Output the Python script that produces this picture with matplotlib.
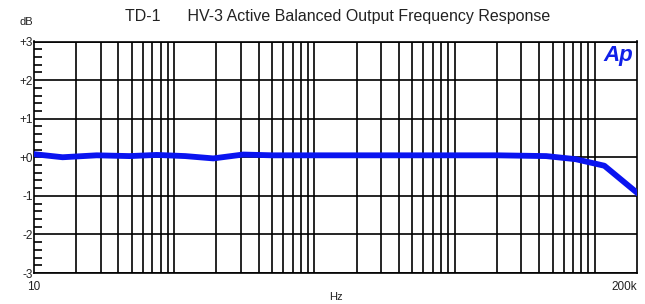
import numpy as np
import matplotlib.pyplot as plt
from matplotlib.ticker import FixedLocator, NullFormatter

# frequency response data (Hz, dB)
freq = [10, 16, 28, 48, 75, 120, 190, 310, 500, 1000, 3000, 10000, 20000, 45000, 73000, 117000, 200000]
level = [0.08, 0.0, 0.05, 0.03, 0.06, 0.03, -0.03, 0.07, 0.05, 0.05, 0.05, 0.05, 0.05, 0.03, -0.05, -0.22, -0.92]

y_ticks = [3, 2, 1, 0, -1, -2, -3]
y_labels = ['+3', '+2', '+1', '+0', '-1', '-2', '-3']

plt.rcParams['font.family'] = ['Liberation Sans', 'DejaVu Sans']

fig = plt.figure(figsize=(6.45, 3.04), dpi=100)
ax = fig.add_axes([34 / 645, 1 - 273 / 304, 603 / 645, 231.5 / 304])

ax.plot(freq, level, color='#0a14f0', lw=4.2, solid_joinstyle='round', zorder=3)

ax.set_xscale('log')
ax.set_xlim(10, 200000)
ax.set_ylim(-3, 3)

# vertical grid at 20,30..100 per decade
grid_x = []
for d in [10, 100, 1000, 10000, 100000]:
    for m in range(2, 11):
        if d * m < 200000:
            grid_x.append(d * m)
for gx in grid_x:
    ax.axvline(gx, color='black', lw=1.2, zorder=1)
for gy in y_ticks:
    ax.axhline(gy, color='black', lw=1.2, zorder=1)

ax.xaxis.set_major_locator(FixedLocator([10, 200000]))
ax.xaxis.set_minor_locator(FixedLocator([]))
ax.set_xticklabels(['10', '200k'])
ax.xaxis.set_minor_formatter(NullFormatter())
ax.tick_params(axis='x', length=0, labelsize=8.5, pad=6, colors='#222222')
for lbl, ha in zip(ax.get_xticklabels(), ['center', 'right']):
    lbl.set_ha(ha)

ax.set_yticks(y_ticks)
ax.set_yticklabels(y_labels)
ax.set_yticks(np.arange(-3, 3.01, 0.2), minor=True)
ax.tick_params(axis='y', which='major', length=0, labelsize=8.5, pad=1, colors='#222222')
ax.tick_params(axis='y', which='minor', direction='in', length=6, width=1.2, color='black')

for s in ax.spines.values():
    s.set_linewidth(1.2)

fig.text(19 / 645, 1 - 22 / 304, 'dB', fontsize=8, color='#222222', ha='left', va='center')
fig.text(336 / 645, 1 - 297 / 304, 'Hz', fontsize=8, color='#222222', ha='center', va='center')
fig.text(338 / 645, 1 - 16 / 304, 'TD-1      HV-3 Active Balanced Output Frequency Response',
         fontsize=11.5, color='#222222', ha='center', va='center')
fig.text(618 / 645, 1 - 56 / 304, 'Ap', fontsize=16, color='#1020e8', fontweight='bold',
         fontstyle='italic', ha='center', va='center')

fig.savefig('out.png', dpi=100, facecolor='white')
